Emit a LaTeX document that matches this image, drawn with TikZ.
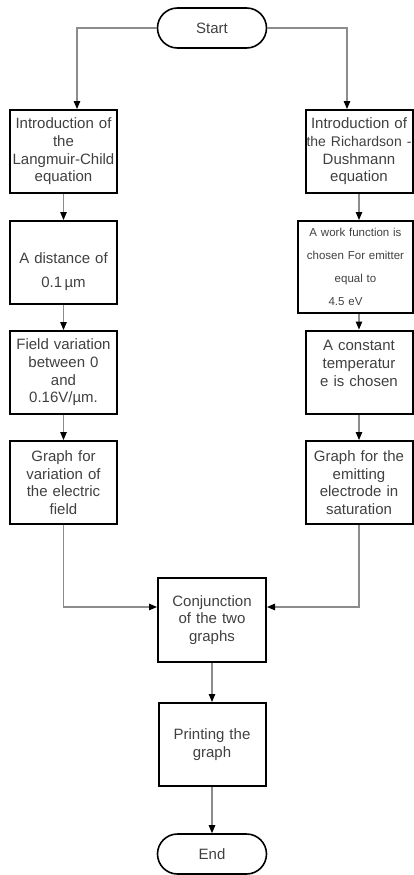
\documentclass[tikz,border=0pt]{standalone}
\usepackage{fontspec}
\setmainfont{Liberation Sans}
\usetikzlibrary{arrows.meta,positioning,calc}
\begin{document}
\begin{tikzpicture}[x=1pt,y=-1pt,>={Triangle[length=8pt,width=6.5pt,color=black]},
 font=\fontsize{15}{17.7}\selectfont,
 box/.style={draw=black,line width=2pt,minimum width=107pt,minimum height=83pt,
   text width=103pt,align=center,inner sep=1pt,text=black!75},
 term/.style={draw=black,line width=1.6pt,rounded corners=20pt,minimum width=109pt,
   minimum height=40pt,text=black!75},
 con/.style={draw=black!45,line width=1.1pt}]
\useasboundingbox (0,0) rectangle (413,875);
\node[term] (start) at (212,28) {Start};
\node[box] (lN1) at (63.5,151.5) {Introduction of\\the\\Langmuir-Child\\equation};
\node[box] (lN2) at (63.5,262.5) {\rule{0pt}{29pt}A distance of\\[6pt]0.1\,µm};
\node[box] (lN3) at (63.5,372.5) {Field variation\\between 0\\and\\0.16V/µm.};
\node[box] (lN4) at (63.5,482.5) {Graph for\\variation of\\the electric\\field};
\node[box] (rN1) at (359,151.5) {Introduction of\\\makebox[\linewidth][c]{\fontsize{14}{17.7}\selectfont the Richardson -}\\Dushmann\\equation};
\node[box,minimum width=115pt,minimum height=92pt,font=\fontsize{11.5}{23}\selectfont]
  (rN2) at (355.5,267) {A work function is\\chosen For emitter\\equal to\\4.5 eV\kern20pt};
\node[box] (rN3) at (359,372) {A constant\\temperatur\\e is chosen\\~};
\node[box] (rN4) at (359,482.5) {Graph for the\\emitting\\electrode in\\saturation};
\node[box,minimum width=108pt,minimum height=84pt] (cj) at (212,620) {Conjunction\\of the two\\graphs};
\node[box] (pr) at (212,744.5) {Printing the\\graph};
\node[term] (fin) at (212,854) {End};
\draw[con,->] (start.west) -| ([xshift=13.5pt]lN1.north);
\draw[con,->] (start.east) -| ([xshift=-12pt]rN1.north);
\draw[con,->] (lN1) -- (lN2);
\draw[con,->] (lN2) -- (lN3);
\draw[con,->] (lN3) -- (lN4);
\draw[con,->] (rN1.south) -- (rN1.south |- rN2.north);
\draw[con,->] (rN2.south -| rN3) -- (rN3.north);
\draw[con,->] (rN3) -- (rN4);
\draw[con,->] (lN4.south) |- ([yshift=13pt]cj.west);
\draw[con,->] (rN4.south) |- ([yshift=13pt]cj.east);
\draw[con,->] (cj) -- (pr);
\draw[con,->] (pr) -- (fin);
\end{tikzpicture}
\end{document}
